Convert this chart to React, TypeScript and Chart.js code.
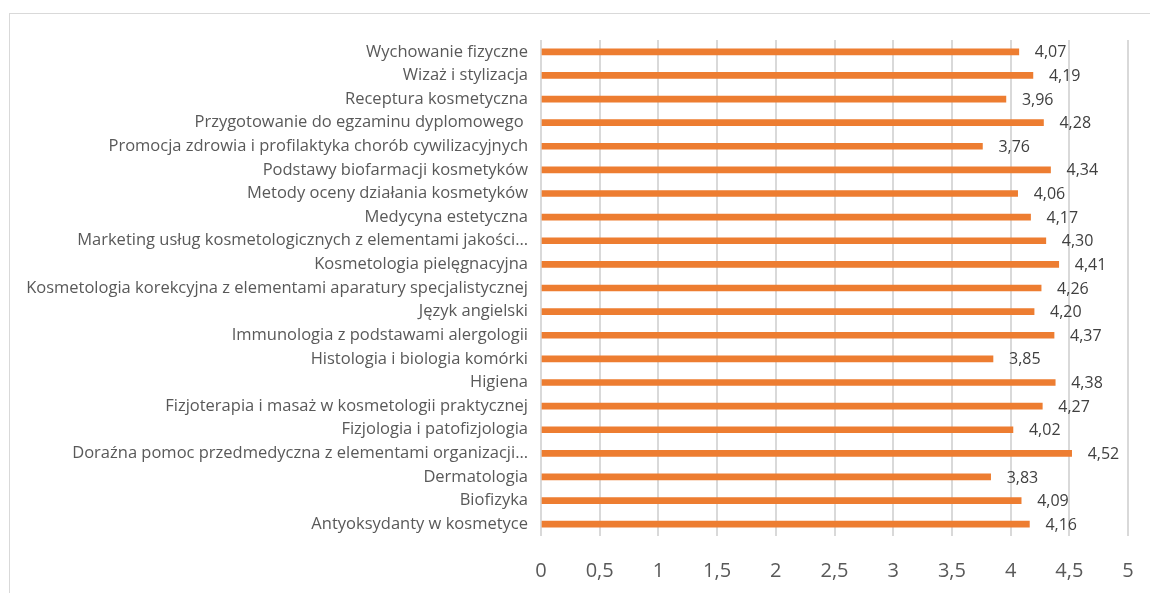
import React, { useEffect, useRef } from "react";
import { Chart, registerables } from "chart.js";
Chart.register(...registerables);

const categories = [
  "Wychowanie fizyczne",
  "Wizaż i stylizacja",
  "Receptura kosmetyczna",
  "Przygotowanie do egzaminu dyplomowego ",
  "Promocja zdrowia i profilaktyka chorób cywilizacyjnych",
  "Podstawy biofarmacji kosmetyków",
  "Metody oceny działania kosmetyków",
  "Medycyna estetyczna",
  "Marketing usług kosmetologicznych z elementami jakości…",
  "Kosmetologia pielęgnacyjna",
  "Kosmetologia korekcyjna z elementami aparatury specjalistycznej",
  "Język angielski",
  "Immunologia z podstawami alergologii",
  "Histologia i biologia komórki",
  "Higiena",
  "Fizjoterapia i masaż w kosmetologii praktycznej",
  "Fizjologia i patofizjologia",
  "Doraźna pomoc przedmedyczna z elementami organizacji…",
  "Dermatologia",
  "Biofizyka",
  "Antyoksydanty w kosmetyce",
];

const values = [
  4.07, 4.19, 3.96, 4.28, 3.76, 4.34, 4.06, 4.17, 4.3, 4.41, 4.26, 4.2, 4.37,
  3.85, 4.38, 4.27, 4.02, 4.52, 3.83, 4.09, 4.16,
];

const xMin = 0;
const xMax = 5;
const xStep = 0.5;

const fmt = (v: number, digits?: number) =>
  (digits !== undefined ? v.toFixed(digits) : String(v)).replace(".", ",");

const FONT = "'Open Sans', Lato, sans-serif";
const CAT_SIZE = 16.5;
const VAL_SIZE = 16;

export default function App() {
  const ref = useRef<HTMLCanvasElement | null>(null);

  useEffect(() => {
    if (!ref.current) return;
    const borderPlugin = {
      id: "frameBorder",
      beforeDraw(chart: any) {
        const ctx = chart.ctx;
        ctx.save();
        ctx.fillStyle = "#ffffff";
        ctx.fillRect(0, 0, chart.width, chart.height);
        ctx.strokeStyle = "#d9d9d9";
        ctx.lineWidth = 1;
        ctx.strokeRect(9.5, 13.5, chart.width + 20, chart.height + 20);
        ctx.restore();
      },
    };
    const labelPlugin = {
      id: "valueLabels",
      afterDatasetsDraw(chart: any) {
        const ctx = chart.ctx;
        const meta = chart.getDatasetMeta(0);
        ctx.save();
        ctx.font = `${VAL_SIZE}px ${FONT}`;
        ctx.fillStyle = "#404040";
        ctx.textAlign = "left";
        ctx.textBaseline = "middle";
        meta.data.forEach((el: any, i: number) => {
          ctx.fillText(fmt(values[i], 2), el.x + 16, el.y + 1);
        });
        ctx.restore();
      },
    };
    const chart = new Chart(ref.current, {
      type: "bar",
      data: {
        labels: categories,
        datasets: [
          {
            data: values,
            backgroundColor: "#ED7D31",
            borderWidth: 0,
            barThickness: 6,
          },
        ],
      },
      options: {
        indexAxis: "y",
        responsive: false,
        animation: false,
        layout: { padding: { top: 40, right: 22, left: 0, bottom: 0 } },
        plugins: {
          legend: { display: false },
          tooltip: { enabled: false },
        },
        scales: {
          x: {
            min: xMin,
            max: xMax,
            ticks: {
              stepSize: xStep,
              padding: 23,
              color: "#595959",
              font: { family: FONT, size: 20 },
              callback: (v: any) => fmt(Number(v)),
            },
            grid: { color: "#d9d9d9", lineWidth: 2, drawTicks: false },
            border: { display: false },
            afterFit: (s: any) => {
              s.height = 57;
              s.paddingLeft = 0;
              s.paddingRight = 0;
            },
          },
          y: {
            ticks: {
              padding: 13,
              color: "#595959",
              font: { family: FONT, size: CAT_SIZE },
              autoSkip: false,
            },
            grid: { display: false, drawTicks: false },
            border: { display: false },
            afterFit: (s: any) => {
              s.width = 541;
              s.paddingTop = 0;
              s.paddingBottom = 0;
            },
          },
        },
      },
      plugins: [borderPlugin, labelPlugin],
    });
    return () => chart.destroy();
  }, []);

  return (
    <div style={{ position: "fixed", left: 0, top: 0, width: 1150, height: 593, background: "#fff" }}>
      <canvas ref={ref} width={1150} height={593} style={{ display: "block" }} />
    </div>
  );
}
